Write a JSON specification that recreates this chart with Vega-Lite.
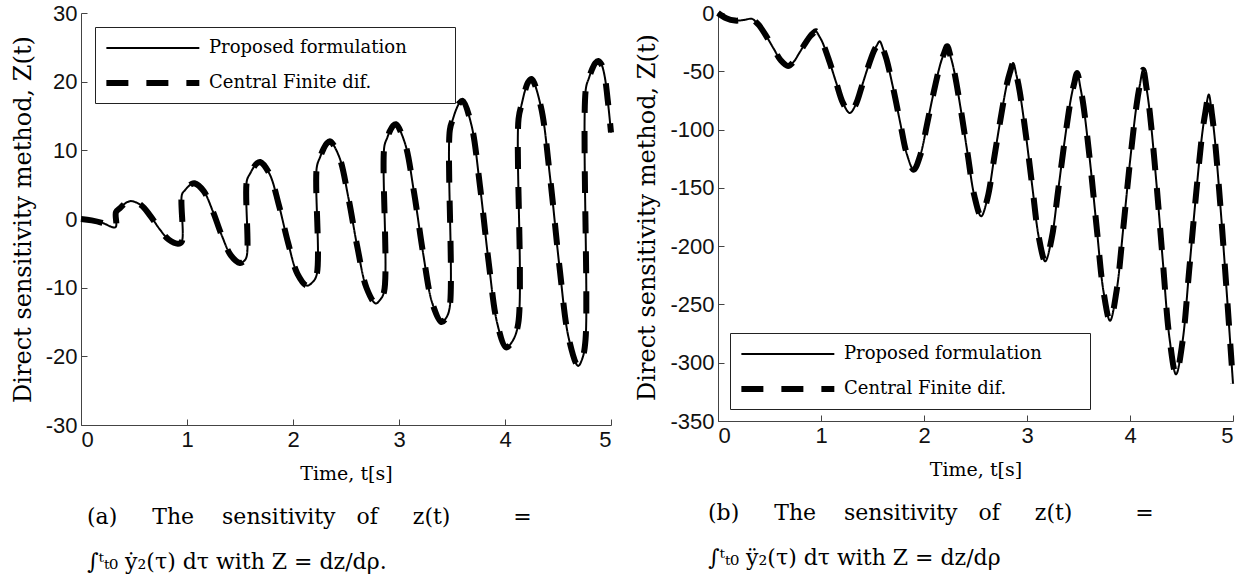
{
  "$schema": "https://vega.github.io/schema/vega-lite/v6.json",
  "background": "white",
  "padding": {"left": 11, "top": 1, "right": 5, "bottom": 5},
  "spacing": 12,
  "resolve": {
    "scale": {"strokeDash": "independent", "strokeWidth": "independent"},
    "legend": {"strokeDash": "independent", "strokeWidth": "independent"}
  },
  "config": {
    "view": {"stroke": null},
    "axis": {
      "grid": false,
      "domainColor": "#444",
      "tickColor": "#444",
      "tickSize": -6,
      "labelPadding": 10,
      "labelFont": "Liberation Sans",
      "labelFontSize": 22,
      "labelColor": "#111",
      "labelExpr": "datum.value + ''",
      "titleFont": "DejaVu Serif",
      "titleFontWeight": "normal",
      "titleFontSize": 19,
      "titleColor": "black",
      "titlePadding": 14
    },
    "axisY": {"titleFontSize": 24, "titlePadding": 10},
    "legend": {
      "title": null,
      "fillColor": "white",
      "strokeColor": "#222",
      "padding": 8,
      "symbolType": "M-1,0H7",
      "symbolSize": 540,
      "symbolStrokeColor": "black",
      "labelFont": "DejaVu Serif",
      "labelFontSize": 18,
      "labelColor": "black",
      "labelOffset": 76,
      "labelLimit": 0,
      "rowPadding": 11
    },
    "title": {"font": "DejaVu Serif", "fontSize": 22, "fontWeight": "normal", "color": "black"}
  },
  "hconcat": [
    {
      "width": 530,
      "height": 412,
      "title": {
        "text": ["(a)\u00a0\u00a0\u00a0\u00a0\u00a0The\u00a0\u00a0\u00a0\u00a0sensitivity\u00a0\u00a0\u00a0of\u00a0\u00a0\u00a0\u00a0\u00a0z(t)\u00a0\u00a0\u00a0\u00a0\u00a0\u00a0\u00a0\u00a0\u00a0=", "∫ᵗₜ₀ ẏ₂(τ) dτ with Z = dz/dρ."],
        "orient": "bottom",
        "anchor": "start",
        "frame": "group",
        "dx": 6,
        "offset": 24,
        "lineHeight": 45
      },
      "data": {"values": [
        {"t": 0, "z": 0}, {"t": 0.1, "z": -0.2}, {"t": 0.2, "z": -0.55}, {"t": 0.325, "z": -1.2},
        {"t": 0.33, "z": 1.0}, {"t": 0.37, "z": 1.61}, {"t": 0.405, "z": 2.13}, {"t": 0.44, "z": 2.48}, {"t": 0.48, "z": 2.6},
        {"t": 0.567, "z": 2.01}, {"t": 0.654, "z": 0.46}, {"t": 0.741, "z": -1.46}, {"t": 0.828, "z": -3.01}, {"t": 0.915, "z": -3.6}, {"t": 0.95, "z": -3.3},
        {"t": 0.953, "z": 3.6}, {"t": 0.982, "z": 4.21}, {"t": 1.012, "z": 4.73}, {"t": 1.041, "z": 5.08}, {"t": 1.07, "z": 5.2},
        {"t": 1.156, "z": 4.09}, {"t": 1.242, "z": 1.19}, {"t": 1.328, "z": -2.39}, {"t": 1.414, "z": -5.29}, {"t": 1.5, "z": -6.4}, {"t": 1.532, "z": -6.2}, {"t": 1.562, "z": -5.5},
        {"t": 1.565, "z": 5.6}, {"t": 1.596, "z": 6.63}, {"t": 1.628, "z": 7.51}, {"t": 1.659, "z": 8.09}, {"t": 1.69, "z": 8.3},
        {"t": 1.778, "z": 6.58}, {"t": 1.866, "z": 2.08}, {"t": 1.954, "z": -3.48}, {"t": 2.042, "z": -7.98}, {"t": 2.13, "z": -9.7}, {"t": 2.178, "z": -9.3}, {"t": 2.222, "z": -8.2},
        {"t": 2.225, "z": 7.6}, {"t": 2.256, "z": 9.02}, {"t": 2.288, "z": 10.22}, {"t": 2.319, "z": 11.02}, {"t": 2.35, "z": 11.3},
        {"t": 2.436, "z": 9.05}, {"t": 2.522, "z": 3.15}, {"t": 2.608, "z": -4.15}, {"t": 2.694, "z": -10.05}, {"t": 2.78, "z": -12.3}, {"t": 2.82, "z": -11.8}, {"t": 2.859, "z": -10.6},
        {"t": 2.862, "z": 10.6}, {"t": 2.889, "z": 11.83}, {"t": 2.916, "z": 12.86}, {"t": 2.943, "z": 13.56}, {"t": 2.97, "z": 13.8},
        {"t": 3.056, "z": 11.05}, {"t": 3.142, "z": 3.85}, {"t": 3.228, "z": -5.05}, {"t": 3.314, "z": -12.25}, {"t": 3.4, "z": -15.0}, {"t": 3.44, "z": -14.5}, {"t": 3.477, "z": -13.0},
        {"t": 3.48, "z": 13.0}, {"t": 3.51, "z": 14.61}, {"t": 3.54, "z": 15.97}, {"t": 3.57, "z": 16.88}, {"t": 3.6, "z": 17.2},
        {"t": 3.682, "z": 13.77}, {"t": 3.764, "z": 4.8}, {"t": 3.846, "z": -6.3}, {"t": 3.928, "z": -15.27}, {"t": 4.01, "z": -18.7}, {"t": 4.07, "z": -17.8}, {"t": 4.125, "z": -15.2},
        {"t": 4.128, "z": 14.6}, {"t": 4.159, "z": 16.82}, {"t": 4.189, "z": 18.7}, {"t": 4.22, "z": 19.96}, {"t": 4.25, "z": 20.4},
        {"t": 4.338, "z": 16.41}, {"t": 4.426, "z": 5.96}, {"t": 4.514, "z": -6.96}, {"t": 4.602, "z": -17.41}, {"t": 4.69, "z": -21.4}, {"t": 4.73, "z": -20.3}, {"t": 4.76, "z": -17.5},
        {"t": 4.763, "z": 19.0}, {"t": 4.792, "z": 20.53}, {"t": 4.822, "z": 21.83}, {"t": 4.851, "z": 22.7}, {"t": 4.88, "z": 23.0},
        {"t": 4.91, "z": 22.5}, {"t": 4.94, "z": 20.8}, {"t": 4.97, "z": 17.2}, {"t": 5.0, "z": 12.6}
      ]},
      "layer": [
        {
          "mark": {"type": "line", "interpolate": "catmull-rom", "strokeCap": "butt", "color": "black"},
          "encoding": {
            "x": {"field": "t", "type": "quantitative", "scale": {"domain": [0, 5], "nice": false}, "axis": {"values": [0, 1, 2, 3, 4, 5], "title": "Time, t[s]"}},
            "y": {"field": "z", "type": "quantitative", "scale": {"domain": [-30, 30], "nice": false}, "axis": {"values": [-30, -20, -10, 0, 10, 20, 30], "title": "Direct sensitivity method, Z(t)"}},
            "strokeDash": {"datum": "Central Finite dif.", "scale": {"domain": ["Proposed formulation", "Central Finite dif."], "range": [[1, 0], [22, 18]]}, "legend": {"orient": "none", "legendX": 14, "legendY": 14, "labelExpr": "datum.label + '\u00a0\u00a0\u00a0\u00a0\u00a0\u00a0\u00a0\u200b'"}},
            "strokeWidth": {"datum": "Central Finite dif.", "scale": {"domain": ["Proposed formulation", "Central Finite dif."], "range": [2, 6]}, "legend": {"orient": "none", "legendX": 14, "legendY": 14, "labelExpr": "datum.label + '\u00a0\u00a0\u00a0\u00a0\u00a0\u00a0\u00a0\u200b'"}}
          }
        },
        {
          "mark": {"type": "line", "interpolate": "catmull-rom", "strokeCap": "butt", "color": "black"},
          "encoding": {
            "x": {"field": "t", "type": "quantitative"},
            "y": {"field": "z", "type": "quantitative"},
            "strokeDash": {"datum": "Proposed formulation"},
            "strokeWidth": {"datum": "Proposed formulation"}
          }
        }
      ]
    },
    {
      "width": 515,
      "height": 408,
      "title": {
        "text": ["(b)\u00a0\u00a0\u00a0\u00a0\u00a0The\u00a0\u00a0\u00a0\u00a0sensitivity\u00a0\u00a0\u00a0of\u00a0\u00a0\u00a0\u00a0\u00a0z(t)\u00a0\u00a0\u00a0\u00a0\u00a0\u00a0\u00a0\u00a0\u00a0=", "∫ᵗₜ₀ ÿ₂(τ) dτ with Z = dz/dρ"],
        "orient": "bottom",
        "anchor": "start",
        "frame": "group",
        "dx": -10,
        "offset": 24,
        "lineHeight": 45
      },
      "data": {"values": [
        {"t": 0, "z": 0}, {"t": 0.08, "z": -4.5}, {"t": 0.165, "z": -6.5}, {"t": 0.25, "z": -6.0}, {"t": 0.33, "z": -5.0},
        {"t": 0.365, "z": -7.43}, {"t": 0.4, "z": -10.67}, {"t": 0.47, "z": -19.98}, {"t": 0.54, "z": -30.51}, {"t": 0.61, "z": -40.64}, {"t": 0.68, "z": -45.5},
        {"t": 0.734, "z": -41.92}, {"t": 0.788, "z": -34.47}, {"t": 0.842, "z": -26.73}, {"t": 0.896, "z": -19.87}, {"t": 0.923, "z": -17.49}, {"t": 0.95, "z": -15.7},
        {"t": 0.983, "z": -19.91}, {"t": 1.016, "z": -25.51}, {"t": 1.082, "z": -41.64}, {"t": 1.148, "z": -59.86}, {"t": 1.214, "z": -77.39}, {"t": 1.28, "z": -85.8},
        {"t": 1.338, "z": -78.42}, {"t": 1.396, "z": -63.04}, {"t": 1.454, "z": -47.05}, {"t": 1.512, "z": -32.91}, {"t": 1.541, "z": -27.99}, {"t": 1.57, "z": -24.3},
        {"t": 1.603, "z": -30.91}, {"t": 1.636, "z": -39.71}, {"t": 1.702, "z": -65.04}, {"t": 1.768, "z": -93.66}, {"t": 1.834, "z": -121.19}, {"t": 1.9, "z": -134.4},
        {"t": 1.965, "z": -121.7}, {"t": 2.03, "z": -95.25}, {"t": 2.095, "z": -67.75}, {"t": 2.16, "z": -43.41}, {"t": 2.193, "z": -34.95}, {"t": 2.225, "z": -28.6},
        {"t": 2.258, "z": -37.35}, {"t": 2.291, "z": -49.01}, {"t": 2.357, "z": -82.55}, {"t": 2.423, "z": -120.45}, {"t": 2.489, "z": -156.9}, {"t": 2.555, "z": -174.4},
        {"t": 2.617, "z": -158.62}, {"t": 2.679, "z": -125.74}, {"t": 2.742, "z": -91.55}, {"t": 2.804, "z": -61.31}, {"t": 2.835, "z": -50.79}, {"t": 2.866, "z": -42.9},
        {"t": 2.897, "z": -53.11}, {"t": 2.928, "z": -66.71}, {"t": 2.991, "z": -105.84}, {"t": 3.053, "z": -150.06}, {"t": 3.115, "z": -192.59}, {"t": 3.177, "z": -213},
        {"t": 3.239, "z": -193.62}, {"t": 3.301, "z": -153.24}, {"t": 3.363, "z": -111.25}, {"t": 3.425, "z": -74.11}, {"t": 3.456, "z": -61.19}, {"t": 3.487, "z": -51.5},
        {"t": 3.519, "z": -64.25}, {"t": 3.551, "z": -81.25}, {"t": 3.615, "z": -130.12}, {"t": 3.678, "z": -185.37}, {"t": 3.742, "z": -238.5}, {"t": 3.806, "z": -264},
        {"t": 3.87, "z": -238.15}, {"t": 3.935, "z": -184.3}, {"t": 3.999, "z": -128.3}, {"t": 4.064, "z": -78.76}, {"t": 4.096, "z": -61.52}, {"t": 4.128, "z": -48.6},
        {"t": 4.16, "z": -64.28}, {"t": 4.192, "z": -85.2}, {"t": 4.256, "z": -145.32}, {"t": 4.319, "z": -213.28}, {"t": 4.383, "z": -278.63}, {"t": 4.447, "z": -310},
        {"t": 4.511, "z": -281.2}, {"t": 4.574, "z": -221.2}, {"t": 4.638, "z": -158.8}, {"t": 4.701, "z": -103.6}, {"t": 4.733, "z": -84.4}, {"t": 4.765, "z": -70},
        {"t": 4.795, "z": -86.5}, {"t": 4.824, "z": -108.5}, {"t": 4.883, "z": -171.75}, {"t": 4.942, "z": -243.25}, {"t": 5.0, "z": -318}
      ]},
      "layer": [
        {
          "mark": {"type": "line", "interpolate": "catmull-rom", "strokeCap": "butt", "color": "black"},
          "encoding": {
            "x": {"field": "t", "type": "quantitative", "scale": {"domain": [0, 5], "nice": false}, "axis": {"values": [0, 1, 2, 3, 4, 5], "title": "Time, t[s]"}},
            "y": {"field": "z", "type": "quantitative", "scale": {"domain": [-350, 0], "nice": false}, "axis": {"values": [-350, -300, -250, -200, -150, -100, -50, 0], "title": "Direct sensitivity method, Z(t)"}},
            "strokeDash": {"datum": "Central Finite dif.", "scale": {"domain": ["Proposed formulation", "Central Finite dif."], "range": [[1, 0], [22, 18]]}, "legend": {"orient": "none", "legendX": 12, "legendY": 320, "labelExpr": "datum.label + '\u00a0\u00a0\u00a0\u00a0\u00a0\u00a0\u00a0\u200b'"}},
            "strokeWidth": {"datum": "Central Finite dif.", "scale": {"domain": ["Proposed formulation", "Central Finite dif."], "range": [2, 6]}, "legend": {"orient": "none", "legendX": 12, "legendY": 320, "labelExpr": "datum.label + '\u00a0\u00a0\u00a0\u00a0\u00a0\u00a0\u00a0\u200b'"}}
          }
        },
        {
          "mark": {"type": "line", "interpolate": "catmull-rom", "strokeCap": "butt", "color": "black"},
          "encoding": {
            "x": {"field": "t", "type": "quantitative"},
            "y": {"field": "z", "type": "quantitative"},
            "strokeDash": {"datum": "Proposed formulation"},
            "strokeWidth": {"datum": "Proposed formulation"}
          }
        }
      ]
    }
  ]
}
